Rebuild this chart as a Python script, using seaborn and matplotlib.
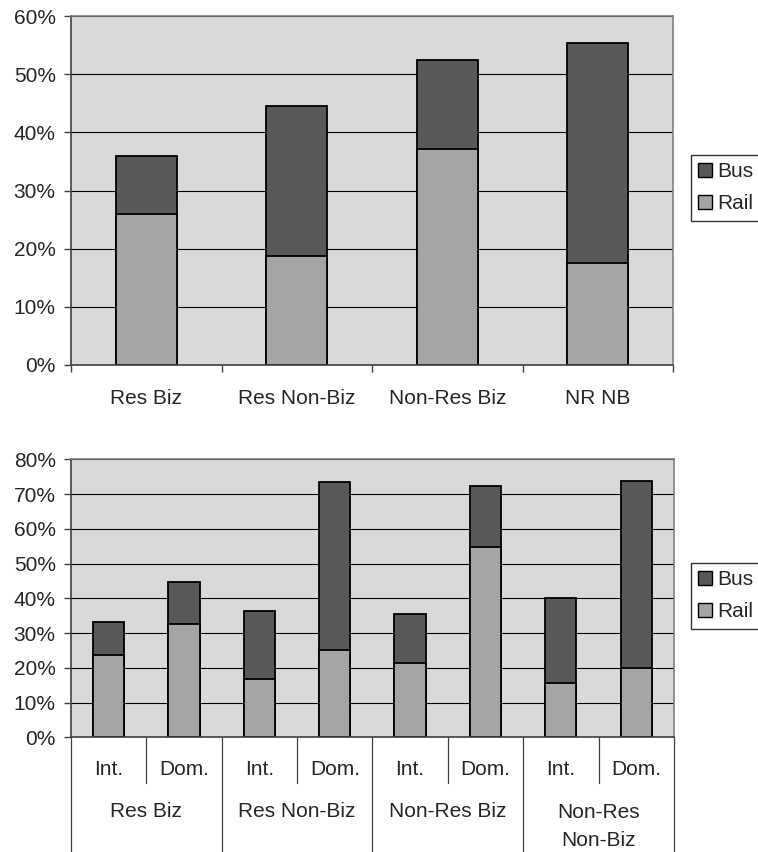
import matplotlib
matplotlib.use("Agg")
import matplotlib.pyplot as plt
import matplotlib.transforms as mtransforms
from matplotlib.patches import Patch
from matplotlib.ticker import PercentFormatter, FixedLocator
import pandas as pd
import seaborn as sns

sns.set_style("white")
plt.rcParams["font.family"] = ["Liberation Sans", "DejaVu Sans"]

# DADOS - GRAFICO DE CIMA
segmentos = ["Res Biz", "Res Non-Biz", "Non-Res Biz", "NR NB"]
rail_top = [26.0, 18.7, 37.1, 17.5]
bus_top = [10.0, 25.9, 15.3, 37.8]

# DADOS - GRAFICO DE BAIXO
grupos = ["Res Biz", "Res Non-Biz", "Non-Res Biz", "Non-Res\nNon-Biz"]
viagens = ["Int.", "Dom."]
rail_bot = [23.7, 32.6, 16.7, 25.2, 21.3, 54.9, 15.7, 20.1]
bus_bot = [9.5, 12.2, 19.8, 48.2, 14.2, 17.5, 24.4, 53.8]

COR_BUS = "#595959"
COR_RAIL = "#a5a5a5"
COR_FUNDO = "#d9d9d9"
FS = 15

fig = plt.figure(figsize=(7.58, 8.52), dpi=100)
ax1 = fig.add_axes([0.0937, 0.5716, 0.7942, 0.4096])
ax2 = fig.add_axes([0.0937, 0.1346, 0.7953, 0.3261])


def estilo(ax, ymax, step):
    ax.set_facecolor(COR_FUNDO)
    ax.set_axisbelow(True)
    ax.set_ylim(0, ymax)
    ax.yaxis.set_major_locator(FixedLocator(list(range(0, ymax + 1, step))))
    ax.yaxis.set_major_formatter(PercentFormatter(decimals=0))
    ax.grid(axis="y", color="black", linewidth=0.8)
    ax.grid(axis="x", visible=False)
    for lado in ["top", "right"]:
        ax.spines[lado].set_color("#808080")
        ax.spines[lado].set_linewidth(1.2)
    for lado in ["left", "bottom"]:
        ax.spines[lado].set_color("#404040")
        ax.spines[lado].set_linewidth(1.2)
    ax.tick_params(axis="y", left=True, length=5, width=1, color="#404040",
                   labelsize=FS, pad=6)
    ax.set_xlabel("")
    ax.set_ylabel("")


def legenda(y):
    handles = [Patch(facecolor=COR_BUS, edgecolor="black", label="Bus"),
               Patch(facecolor=COR_RAIL, edgecolor="black", label="Rail")]
    fig.legend(handles=handles, loc="upper left", bbox_to_anchor=(0.911, y),
               fontsize=FS, frameon=True, fancybox=False, edgecolor="black",
               handlelength=0.7, handleheight=0.7, handletextpad=0.25,
               borderpad=0.35, labelspacing=0.63, borderaxespad=0)


# --- GRAFICO DE CIMA ---
df_top = pd.DataFrame({"Segmento": segmentos, "Rail": rail_top, "Bus": bus_top})
df_top["Total"] = df_top["Rail"] + df_top["Bus"]

sns.barplot(data=df_top, x="Segmento", y="Total", color=COR_BUS, width=0.405,
            edgecolor="black", linewidth=1.3, saturation=1, ax=ax1)
sns.barplot(data=df_top, x="Segmento", y="Rail", color=COR_RAIL, width=0.405,
            edgecolor="black", linewidth=1.3, saturation=1, ax=ax1)
estilo(ax1, 60, 10)
ax1.set_xlim(-0.5, len(segmentos) - 0.5)
ax1.set_xticks(range(len(segmentos)))
ax1.set_xticklabels(segmentos)
ax1.set_xticks([i - 0.5 for i in range(len(segmentos) + 1)], minor=True)
ax1.tick_params(axis="x", which="major", bottom=False, labelsize=FS, pad=14)
ax1.tick_params(axis="x", which="minor", bottom=True, length=5, width=1,
                color="#404040")
legenda(1 - 155 / 852)

# --- GRAFICO DE BAIXO ---
cats = [f"{g} {v}" for g in grupos for v in viagens]
df_bot = pd.DataFrame({"Cat": cats, "Rail": rail_bot, "Bus": bus_bot})
df_bot["Total"] = df_bot["Rail"] + df_bot["Bus"]

sns.barplot(data=df_bot, x="Cat", y="Total", color=COR_BUS, width=0.415,
            edgecolor="black", linewidth=1.3, saturation=1, ax=ax2)
sns.barplot(data=df_bot, x="Cat", y="Rail", color=COR_RAIL, width=0.415,
            edgecolor="black", linewidth=1.3, saturation=1, ax=ax2)
estilo(ax2, 80, 10)
ax2.set_xlim(-0.5, len(cats) - 0.5)
ax2.set_xticks([])
legenda(1 - 563 / 852)

# EIXO X COM DOIS NIVEIS (TIPO EXCEL)
trans = mtransforms.blended_transform_factory(ax2.transData, ax2.transAxes)
h = 278.0
for i, c in enumerate(cats):
    ax2.text(i, -32 / h, viagens[i % 2], transform=trans, ha="center",
             va="center", fontsize=FS)
for j, g in enumerate(grupos):
    xc = 2 * j + 0.5
    yc = -89 / h if "\n" in g else -74 / h
    ax2.text(xc, yc, g, transform=trans, ha="center", va="center",
             fontsize=FS, linespacing=1.6)
    ax2.plot([xc, xc], [0, -46 / h], transform=trans,
             color="#404040", lw=0.9, clip_on=False)
for k in range(len(grupos) + 1):
    xs = 2 * k - 0.5
    ax2.plot([xs, xs], [0, -116 / h], transform=trans, color="#404040",
             lw=0.9, clip_on=False)

fig.savefig("out.png", dpi=100)
